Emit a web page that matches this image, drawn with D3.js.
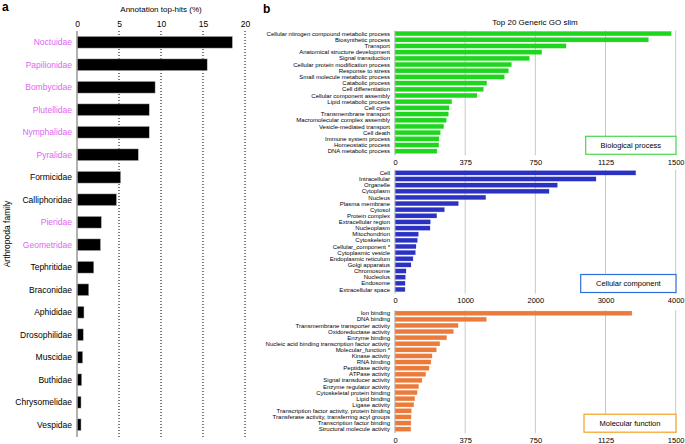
<!DOCTYPE html>
<html>
<head>
<meta charset="utf-8">
<script src="https://cdn.jsdelivr.net/npm/d3@7"></script>
<style>
  body { margin: 0; background: #fff; }
  svg { display: block; font-family: "Liberation Sans", Arial, sans-serif; }
</style>
</head>
<body>
<svg id="chart" width="685" height="444"></svg>
<script>
// panel a data
var families = ['Noctuidae', 'Papilionidae', 'Bombycidae', 'Plutellidae', 'Nymphalidae', 'Pyralidae', 'Formicidae',
  'Calliphoridae', 'Pieridae', 'Geometridae', 'Tephritidae', 'Braconidae', 'Aphididae', 'Drosophilidae',
  'Muscidae', 'Buthidae', 'Chrysomelidae', 'Vespidae'];
var topHits = [18.5, 15.5, 9.3, 8.6, 8.6, 7.3, 5.2, 4.7, 2.9, 2.8, 2.0, 1.4, 0.83, 0.75, 0.68, 0.56, 0.48, 0.48];
var lepidoptera = ['Noctuidae', 'Papilionidae', 'Bombycidae', 'Plutellidae', 'Nymphalidae', 'Pyralidae', 'Pieridae', 'Geometridae'];
var aTicks = [0, 5, 10, 15, 20];

// panel b data
var bpTerms = ['Cellular nitrogen compound metabolic process', 'Biosynthetic process', 'Transport',
  'Anatomical structure development', 'Signal transduction', 'Cellular protein modification process',
  'Response to stress', 'Small molecule metabolic process', 'Catabolic process', 'Cell differentiation',
  'Cellular component assembly', 'Lipid metabolic process', 'Cell cycle', 'Transmembrane transport',
  'Macromolecular complex assembly', 'Vesicle-mediated transport', 'Cell death', 'Immune system process',
  'Homeostatic process', 'DNA metabolic process'];
var bpCounts = [1476, 1354, 914, 784, 718, 622, 606, 584, 490, 472, 438, 303, 289, 285, 274, 260, 242, 235, 234, 224];

var ccTerms = ['Cell', 'Intracellular', 'Organelle', 'Cytoplasm', 'Nucleus', 'Plasma membrane', 'Cytosol',
  'Protein complex', 'Extracellular region', 'Nucleoplasm', 'Mitochondrion', 'Cytoskeleton',
  'Cellular_component *', 'Cytoplasmic vesicle', 'Endoplasmic reticulum', 'Golgi apparatus', 'Chromosome',
  'Nucleolus', 'Endosome', 'Extracellular space'];
var ccCounts = [3430, 2864, 2313, 2195, 1292, 902, 703, 594, 503, 499, 332, 318, 299, 290, 256, 228, 157, 147, 143, 142];

var mfTerms = ['Ion binding', 'DNA binding', 'Transmembrane transporter activity', 'Oxidoreductase activity',
  'Enzyme binding', 'Nucleic acid binding transcription factor activity', 'Molecular_function *',
  'Kinase activity', 'RNA binding', 'Peptidase activity', 'ATPase activity', 'Signal transducer activity',
  'Enzyme regulator activity', 'Cytoskeletal protein binding', 'Lipid binding', 'Ligase activity',
  'Transcription factor activity, protein binding', 'Transferase activity, transferring acyl groups',
  'Transcription factor binding', 'Structural molecule activity'];
var mfCounts = [1266, 488, 337, 312, 276, 239, 221, 198, 192, 182, 164, 144, 126, 118, 105, 100, 87, 86, 85, 84];

var ticks1500 = [0, 375, 750, 1125, 1500];
var ticks4000 = [0, 1000, 2000, 3000, 4000];

var svg = d3.select("#chart");

// ---------- panel a ----------
var ax = d3.scaleLinear().domain([0, 20]).range([77, 245]);
var ay = d3.scaleBand().domain(families).range([31, 436]).paddingInner(0.48).paddingOuter(0.24);

svg.append("text").attr("x", 2).attr("y", 11).text("a")
  .style("font-size", "12px").style("font-weight", "bold");

svg.append("text").attr("x", ax(10)).attr("y", 12).attr("text-anchor", "middle")
  .style("font-size", "8px").text("Annotation top-hits (%)");

var aAxis = svg.append("g").attr("transform", "translate(0,29)")
  .call(d3.axisTop(ax).tickValues(aTicks).tickSize(0).tickPadding(2));
aAxis.select(".domain").remove();
aAxis.selectAll("text").style("font-size", "8.5px").style("font-family", "Liberation Sans, Arial, sans-serif");

svg.append("g").selectAll("line")
  .data(aTicks.slice(1))
  .join("line")
  .attr("x1", d => ax(d)).attr("x2", d => ax(d))
  .attr("y1", 31).attr("y2", 437)
  .attr("stroke", "#000").attr("stroke-width", 1).attr("stroke-dasharray", "1,2");

svg.append("g").selectAll("rect")
  .data(families)
  .join("rect")
  .attr("x", ax(0))
  .attr("y", d => ay(d))
  .attr("width", (d, i) => ax(topHits[i]) - ax(0))
  .attr("height", ay.bandwidth())
  .attr("fill", "#000")
  .attr("stroke", "#bbb").attr("stroke-width", 0.5);

svg.append("line").attr("x1", ax(0)).attr("x2", ax(0)).attr("y1", 31).attr("y2", 437)
  .attr("stroke", "#999").attr("stroke-width", 1.5);

svg.append("g").selectAll("text")
  .data(families)
  .join("text")
  .attr("x", 72)
  .attr("y", d => ay(d) + ay.bandwidth() / 2)
  .attr("dy", "0.35em")
  .attr("text-anchor", "end")
  .attr("fill", d => lepidoptera.includes(d) ? "#dd66f2" : "#000")
  .style("font-size", "8.5px")
  .text(d => d);

svg.append("text")
  .attr("transform", "translate(10,234) rotate(-90)")
  .attr("text-anchor", "middle")
  .style("font-size", "8.5px")
  .text("Arthropoda family");

// ---------- panel b ----------
svg.append("text").attr("x", 263).attr("y", 13).text("b")
  .style("font-size", "12px").style("font-weight", "bold");

svg.append("text").attr("x", 535).attr("y", 25).attr("text-anchor", "middle")
  .style("font-size", "8px").text("Top 20 Generic GO slim");

function goPanel(terms, counts, maxV, ticks, y0, y1, color, boxColor, boxX, boxLabel) {
  var x = d3.scaleLinear().domain([0, maxV]).range([395, 675.7]);
  var y = d3.scaleBand().domain(terms).range([y0, y1]).paddingInner(0.3).paddingOuter(0.15);
  var g = svg.append("g");

  g.append("g").selectAll("line")
    .data(ticks.slice(1))
    .join("line")
    .attr("x1", d => x(d)).attr("x2", d => x(d))
    .attr("y1", y0).attr("y2", y1 + 1)
    .attr("stroke", "#c8c8c8").attr("stroke-width", 1);

  g.append("g").selectAll("rect")
    .data(terms)
    .join("rect")
    .attr("x", x(0))
    .attr("y", d => y(d))
    .attr("width", (d, i) => x(counts[i]) - x(0))
    .attr("height", y.bandwidth())
    .attr("fill", color)
    .attr("stroke", color).attr("stroke-opacity", 0.35).attr("stroke-width", 0.6);

  g.append("line").attr("x1", x(0)).attr("x2", x(0)).attr("y1", y0).attr("y2", y1 + 1)
    .attr("stroke", "#aaa").attr("stroke-width", 1);

  g.append("g").selectAll("text")
    .data(terms)
    .join("text")
    .attr("x", 390)
    .attr("y", d => y(d) + y.bandwidth() / 2)
    .attr("dy", "0.35em")
    .attr("text-anchor", "end")
    .style("font-size", "6px")
    .text(d => d);

  var axis = g.append("g").attr("transform", `translate(0,${y1 + 5})`)
    .call(d3.axisBottom(x).tickValues(ticks).tickSize(0).tickPadding(0).tickFormat(d3.format("d")));
  axis.select(".domain").remove();
  axis.selectAll("text").style("font-size", "7.5px").style("font-family", "Liberation Sans, Arial, sans-serif");

  var bh = 18;
  g.append("rect")
    .attr("x", boxX).attr("y", y1 - bh)
    .attr("width", 676 - boxX).attr("height", bh)
    .attr("fill", "#fff")
    .attr("stroke", boxColor).attr("stroke-width", 1.2);
  g.append("text")
    .attr("x", (boxX + 676) / 2).attr("y", y1 - bh / 2)
    .attr("dy", "0.35em").attr("text-anchor", "middle")
    .style("font-size", "7.5px")
    .text(boxLabel);
}

goPanel(bpTerms, bpCounts, 1500, ticks1500, 30.5, 154.3, "#1ed61e", "#4cd64c", 585.7, "Biological process");
goPanel(ccTerms, ccCounts, 4000, ticks4000, 169.8, 292.5, "#2b32c2", "#2f6fdc", 580.7, "Cellular component");
goPanel(mfTerms, mfCounts, 1500, ticks1500, 310.2, 432.2, "#ec7a3a", "#f5a020", 584, "Molecular function");
</script>
</body>
</html>
